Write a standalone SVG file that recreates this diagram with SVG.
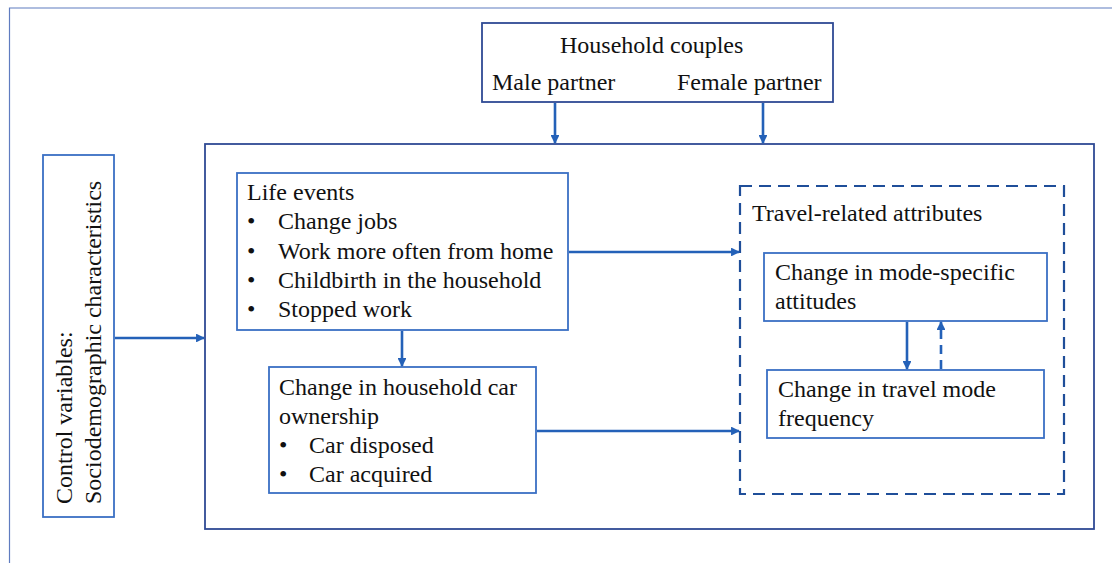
<svg xmlns="http://www.w3.org/2000/svg" width="1112" height="563" viewBox="0 0 1112 563">
  <style>
    text { font-family: "Liberation Serif", "Times New Roman", serif; font-size: 24px; fill: #111; }
    .node { fill: #fff; stroke: #3a6fc4; stroke-width: 1.8; }
    .dark { fill: #fff; stroke: #2f4a94; stroke-width: 1.8; }
    .dash { fill: none; stroke: #1f4e99; stroke-width: 2.2; stroke-dasharray: 12 7; }
    .arrow { fill: none; stroke: #2461b8; stroke-width: 2.6; marker-end: url(#head); }
    .arrow-dash { fill: none; stroke: #2461b8; stroke-width: 2.6; stroke-dasharray: 9 6; marker-end: url(#head); }
  </style>
  <defs>
    <marker id="head" viewBox="0 0 10 10" refX="9" refY="5" markerWidth="3.4" markerHeight="3.4" orient="auto" markerUnits="strokeWidth">
      <path d="M0,0 L10,5 L0,10 z" fill="#2461b8"/>
    </marker>
  </defs>

  <rect width="1112" height="563" fill="#fff"/>
  <!-- page frame -->
  <path d="M9.5,563 V8 H1112" fill="none" stroke="#5f7cc0" stroke-width="1.2"/>

  <!-- outer model frame -->
  <g id="model-frame">
    <rect class="dark" x="205" y="144" width="889" height="385"/>
  </g>

  <g id="household-couples">
    <rect class="dark" x="482" y="23" width="351" height="79"/>
    <text x="560" y="53">Household couples</text>
    <text x="492" y="90">Male partner</text>
    <text x="677" y="90">Female partner</text>
  </g>

  <g id="control-variables">
    <rect class="node" x="43" y="155" width="71" height="362"/>
    <text transform="translate(72,504) rotate(-90)">Control variables:</text>
    <text transform="translate(101,504) rotate(-90)">Sociodemographic characteristics</text>
  </g>

  <g id="life-events">
    <rect class="node" x="237" y="173" width="331" height="157"/>
    <text x="247" y="200">Life events</text>
    <text x="247" y="229">•</text><text x="278" y="229">Change jobs</text>
    <text x="247" y="259">•</text><text x="278" y="259">Work more often from home</text>
    <text x="247" y="288">•</text><text x="278" y="288">Childbirth in the household</text>
    <text x="247" y="317">•</text><text x="278" y="317">Stopped work</text>
  </g>

  <g id="car-ownership">
    <rect class="node" x="269" y="367" width="267" height="126"/>
    <text x="279" y="395">Change in household car</text>
    <text x="279" y="424">ownership</text>
    <text x="279" y="453">•</text><text x="309" y="453">Car disposed</text>
    <text x="279" y="482">•</text><text x="309" y="482">Car acquired</text>
  </g>

  <g id="travel-attributes">
    <rect class="dash" x="740" y="186" width="324" height="308"/>
    <text x="752" y="221">Travel-related attributes</text>
  </g>

  <g id="mode-attitudes">
    <rect class="node" x="764" y="253" width="283" height="68"/>
    <text x="775" y="280">Change in mode-specific</text>
    <text x="775" y="309">attitudes</text>
  </g>

  <g id="mode-frequency">
    <rect class="node" x="767" y="370" width="277" height="68"/>
    <text x="778" y="397">Change in travel mode</text>
    <text x="778" y="426">frequency</text>
  </g>

  <g id="connectors">
    <line class="arrow" x1="555" y1="103" x2="555" y2="143"/>
    <line class="arrow" x1="763" y1="103" x2="763" y2="143"/>
    <line class="arrow" x1="115" y1="338" x2="204" y2="338"/>
    <line class="arrow" x1="402" y1="331" x2="402" y2="366"/>
    <line class="arrow" x1="569" y1="252" x2="739" y2="252"/>
    <line class="arrow" x1="537" y1="431" x2="739" y2="431"/>
    <line class="arrow" x1="907" y1="322" x2="907" y2="369"/>
    <line class="arrow-dash" x1="941" y1="369" x2="941" y2="322"/>
  </g>
</svg>
